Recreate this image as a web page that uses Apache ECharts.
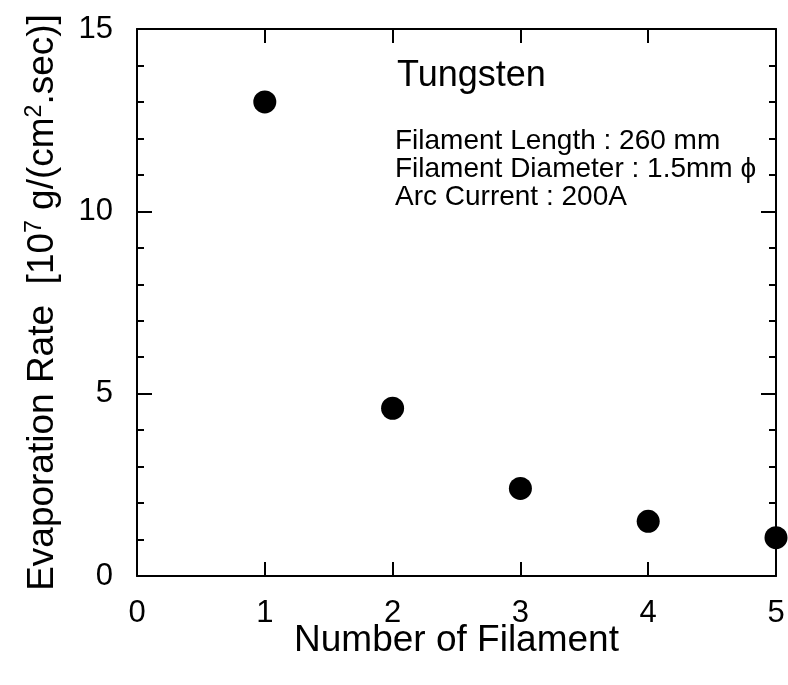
<!DOCTYPE html>
<html><head><meta charset="utf-8">
<script src="https://cdn.jsdelivr.net/npm/echarts@6/dist/echarts.min.js"></script>
<style>html,body{margin:0;padding:0;background:#fff}#c{width:788px;height:685px}</style>
</head><body><div id="c"></div>
<script>
const filaments = [1, 2, 3, 4, 5];
const evapRate = [13.0, 4.6, 2.4, 1.5, 1.05];
const xTicks = [0, 1, 2, 3, 4, 5];
const yTicks = [0, 5, 10, 15];
const noteTitle = 'Tungsten';
const noteLines = ['Filament Length : 260 mm', 'Filament Diameter : 1.5mm \u03d5', 'Arc Current : 200A'];

const F = 'Liberation Sans, Arial, sans-serif';
const chart = echarts.init(document.getElementById('c'));
const lineStyle = {color: '#000', width: 2};
const baseX = {type: 'value', min: xTicks[0], max: xTicks[xTicks.length-1], interval: 1,
  axisLine: {show: true, onZero: false, lineStyle}, splitLine: {show: false},
  axisTick: {show: true, inside: true, length: 14, lineStyle: {color: '#000', width: 2}}};
const baseY = {type: 'value', min: yTicks[0], max: yTicks[yTicks.length-1], interval: 5,
  axisLine: {show: true, onZero: false, lineStyle}, splitLine: {show: false},
  axisTick: {show: true, inside: true, length: 15, lineStyle: {color: '#000', width: 2}},
  minorTick: {show: true, splitNumber: 5, length: 7, lineStyle: {color: '#000', width: 2}}, minorSplitLine: {show: false}};

chart.setOption({
  animation: false,
  grid: {left: 137, right: 12, top: 29, bottom: 109},
  xAxis: [
    Object.assign({}, baseX, {position: 'bottom',
      name: 'Number of Filament', nameLocation: 'middle', nameGap: 46, nameMoveOverlap: false,
      nameTextStyle: {fontFamily: F, fontSize: 37, color: '#000'},
      axisLabel: {fontFamily: F, fontSize: 31, color: '#000', margin: 22}}),
    Object.assign({}, baseX, {position: 'top', axisLabel: {show: false}})
  ],
  yAxis: [
    Object.assign({}, baseY, {position: 'left',
      name: '{n|Evaporation Rate  [10}{s|7}{n| g/(cm}{s|2}{n|.sec)]}', nameLocation: 'middle', nameGap: 75,
      nameTextStyle: {rich: {
        n: {fontFamily: F, fontSize: 37, color: '#000'},
        s: {fontFamily: F, fontSize: 23, color: '#000', verticalAlign: 'top', padding: [0, 0, 16, 0]}
      }},
      axisLabel: {fontFamily: F, fontSize: 31, color: '#000', margin: 24}}),
    Object.assign({}, baseY, {position: 'right', axisLabel: {show: false}})
  ],
  series: [{
    type: 'scatter', xAxisIndex: 0, yAxisIndex: 0,
    data: filaments.map((f, i) => [f, evapRate[i]]),
    symbol: 'circle', symbolSize: 23,
    itemStyle: {color: '#000', opacity: 1}
  }],
  graphic: [
    {type: 'text', left: 397, top: 58, style: {text: noteTitle, font: '36px ' + F, fill: '#000'}},
    {type: 'text', left: 395, top: 127, style: {text: noteLines.join('\n'), font: '28px ' + F, lineHeight: 28, fill: '#000'}}
  ]
});
</script></body></html>
